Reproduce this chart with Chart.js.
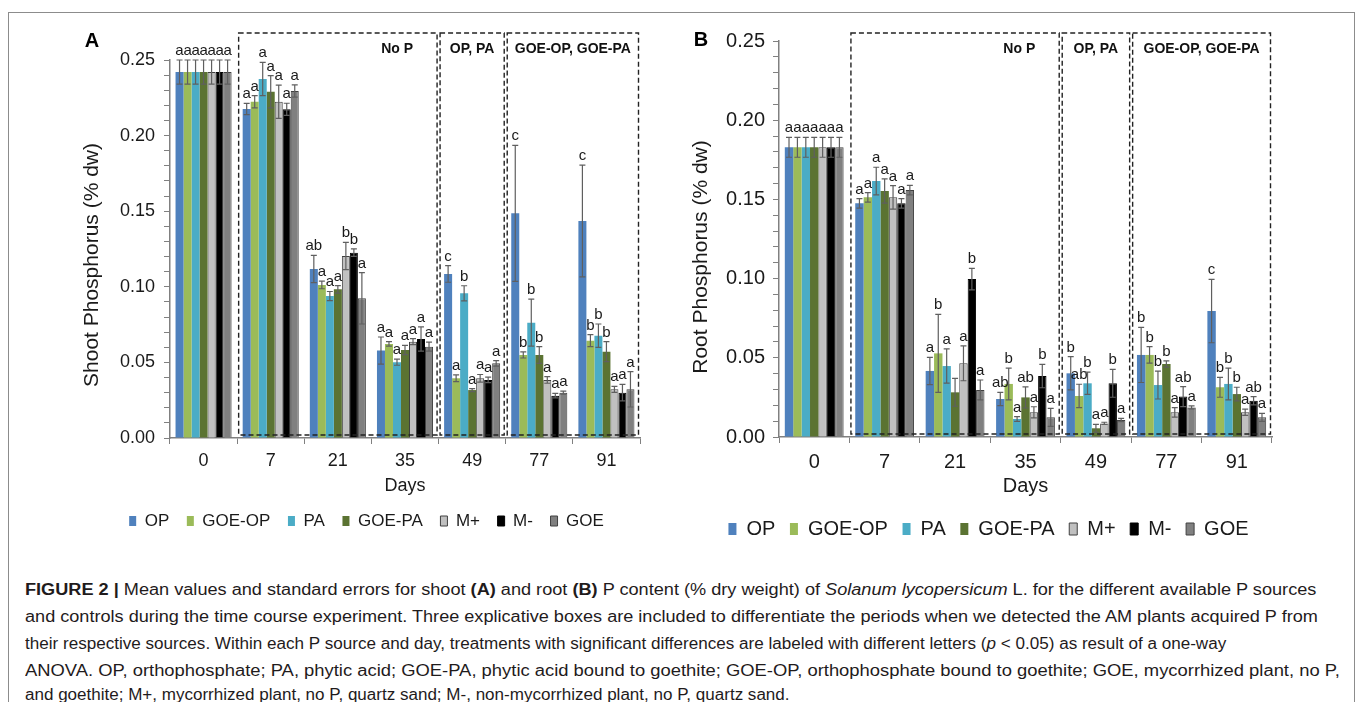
<!DOCTYPE html>
<html><head><meta charset="utf-8">
<script src="https://cdn.jsdelivr.net/npm/chart.js@4.4.1/dist/chart.umd.min.js"></script>
<style>
body{margin:0;background:#fff;width:1357px;height:702px;overflow:hidden;position:relative;font-family:"Liberation Sans",Arial,sans-serif;}
#frame{position:absolute;left:8px;top:12px;width:1347px;height:720px;border:1px solid #8c8c8c;box-sizing:border-box;}
#ca{position:absolute;left:20px;top:20px;}
#cb{position:absolute;left:680px;top:20px;}
.cap{position:absolute;left:25px;font-size:16px;color:#1f1b1c;white-space:nowrap;transform-origin:0 50%;line-height:20px;}
</style></head>
<body>
<div id="frame"></div>
<canvas id="ca" width="640" height="530"></canvas>
<canvas id="cb" width="612" height="540"></canvas>
<div class="cap" data-r="1316" style="top:580px"><b>FIGURE 2 |</b> Mean values and standard errors for shoot <b>(A)</b> and root <b>(B)</b> P content (% dry weight) of <i>Solanum lycopersicum</i> L. for the different available P sources</div>
<div class="cap" data-r="1318" style="top:607px">and controls during the time course experiment. Three explicative boxes are included to differentiate the periods when we detected the AM plants acquired P from</div>
<div class="cap" data-r="1226" style="top:634px">their respective sources. Within each P source and day, treatments with significant differences are labeled with different letters (<i>p</i> &lt; 0.05) as result of a one-way</div>
<div class="cap" data-r="1340" style="top:661px">ANOVA. OP, orthophosphate; PA, phytic acid; GOE-PA, phytic acid bound to goethite; GOE-OP, orthophosphate bound to goethite; GOE, mycorrhized plant, no P,</div>
<div class="cap" data-r="789" style="top:685px">and goethite; M+, mycorrhized plant, no P, quartz sand; M-, non-mycorrhized plant, no P, quartz sand.</div>
<script>
// ---------- data ----------
const days = ['0','7','21','35','49','77','91'];
const seriesNames = ['OP','GOE-OP','PA','GOE-PA','M+','M-','GOE'];
const seriesColors = ['#4f81bd','#9bbb59','#4bacc6','#5b7332','#c0c0c0','#000000','#808080'];
const seriesBorderColors = ['#4f81bd','#9bbb59','#4bacc6','#5b7332','#404040','#000000','#404040'];
const seriesBorderWidths = [0,0,0,0,1,1,1];
const periodLabels = ['No P','OP, PA','GOE-OP, GOE-PA'];
const periodFirstDay = ['7','49','77'];
const periodLastDay = ['35','49','91'];
const periodAlign = ['right','center','center'];

// Shoot P (% dw), panel A
const shootOP     = [0.242,0.2176,0.1118,0.0578,0.1085,0.1486,0.1435];
const shootGOEOP  = [0.242,0.2224,0.1012,0.0622,0.0395,0.0549,0.0644];
const shootPA     = [0.242,0.2374,0.0939,0.0501,0.0957,0.0763,0.0677];
const shootGOEPA  = [0.242,0.2290,0.0983,0.0582,0.0317,0.0549,0.0571];
const shootMplus  = [0.242,0.2224,0.1204,0.0637,0.0395,0.0384,0.0322];
const shootMminus = [0.242,0.2174,0.1226,0.0655,0.0384,0.0280,0.0300];
const shootGOE    = [0.242,0.2295,0.0924,0.0604,0.0494,0.0300,0.0322];
const shootOPse     = [0.008,0.0037,0.009,0.009,0.0055,0.045,0.037];
const shootGOEOPse  = [0.008,0.004,0.0025,0.0015,0.0022,0.002,0.004];
const shootPAse     = [0.008,0.011,0.003,0.002,0.005,0.0156,0.0077];
const shootGOEPAse  = [0.008,0.0106,0.0025,0.003,0.001,0.0055,0.0066];
const shootMplusse  = [0.008,0.011,0.009,0.002,0.0025,0.0022,0.002];
const shootMminusse = [0.008,0.004,0.0025,0.008,0.0018,0.0015,0.0055];
const shootGOEse    = [0.008,0.004,0.017,0.003,0.0018,0.001,0.0117];
const shootOPsig     = ['a','a','ab','a','c','c','c'];
const shootGOEOPsig  = ['a','a','a','a','a','b','b'];
const shootPAsig     = ['a','a','a','a','b','b','b'];
const shootGOEPAsig  = ['a','a','a','a','a','b','b'];
const shootMplussig  = ['a','a','b','a','a','a','a'];
const shootMminussig = ['a','a','b','a','a','a','a'];
const shootGOEsig    = ['a','a','a','a','a','a','a'];

// Root P (% dw), panel B
const rootOP     = [0.1829,0.1475,0.0417,0.0240,0.0402,0.0518,0.0795];
const rootGOEOP  = [0.1829,0.1513,0.0528,0.0335,0.0259,0.0518,0.0314];
const rootPA     = [0.1829,0.1616,0.0448,0.0114,0.0339,0.0328,0.0335];
const rootGOEPA  = [0.1829,0.1553,0.0282,0.0250,0.0055,0.0461,0.0271];
const rootMplus  = [0.1829,0.1513,0.0465,0.0156,0.0086,0.0156,0.0156];
const rootMminus = [0.1829,0.1475,0.0997,0.0385,0.0339,0.0255,0.0229];
const rootGOE    = [0.1829,0.1559,0.0297,0.0124,0.0107,0.0187,0.0124];
const rootOPse     = [0.0063,0.003,0.0086,0.0042,0.0105,0.0174,0.02];
const rootGOEOPse  = [0.0063,0.003,0.0246,0.01,0.0074,0.0052,0.0063];
const rootPAse     = [0.0063,0.0087,0.0108,0.0015,0.007,0.0088,0.01];
const rootGOEPAse  = [0.0063,0.0076,0.0088,0.0067,0.0025,0.002,0.0043];
const rootMplusse  = [0.0063,0.0074,0.011,0.0035,0.0007,0.003,0.002];
const rootMminusse = [0.0063,0.003,0.0068,0.0074,0.0088,0.0063,0.0026];
const rootGOEse    = [0.0063,0.003,0.0063,0.0057,0.001,0.001,0.0025];
const rootOPsig     = ['a','a','a','ab','b','b','c'];
const rootGOEOPsig  = ['a','a','b','b','ab','b','b'];
const rootPAsig     = ['a','a','a','a','b','b','b'];
const rootGOEPAsig  = ['a','a','','ab','a','b','b'];
const rootMplussig  = ['a','a','a','a','a','a','a'];
const rootMminussig = ['a','a','b','b','b','ab','ab'];
const rootGOEsig    = ['a','a','a','a','a','a','a'];

const yTickLabels = ['0.00','0.05','0.10','0.15','0.20','0.25'];

// ---------- chart ----------
Chart.defaults.font.family = '"Liberation Sans", Arial, sans-serif';
Chart.defaults.color = '#1a1a1a';

function buildDatasets(means, ses, sigs) {
  return seriesNames.map((name, i) => ({
    label: name,
    data: means[i],
    errors: ses[i],
    sig: sigs[i],
    backgroundColor: seriesColors[i],
    borderColor: seriesBorderColors[i],
    borderWidth: seriesBorderWidths[i],
    categoryPercentage: 0.835,
    barPercentage: 1.0
  }));
}

const annot = {
  id: 'annot',
  afterDatasetsDraw(chart, args, o) {
    const ctx = chart.ctx, xs = chart.scales.x, ys = chart.scales.y, ca = chart.chartArea;
    ctx.save();
    // error bars and significance letters
    chart.data.datasets.forEach((ds, di) => {
      const meta = chart.getDatasetMeta(di);
      meta.data.forEach((bar, i) => {
        const v = ds.data[i], e = ds.errors[i];
        const yt = ys.getPixelForValue(v + e), yb = ys.getPixelForValue(v - e);
        ctx.strokeStyle = '#5f5f5f'; ctx.lineWidth = 1.2; ctx.setLineDash([]);
        ctx.beginPath();
        ctx.moveTo(bar.x, yt); ctx.lineTo(bar.x, yb);
        ctx.moveTo(bar.x - 3, yt); ctx.lineTo(bar.x + 3, yt);
        ctx.moveTo(bar.x - 3, yb); ctx.lineTo(bar.x + 3, yb);
        ctx.stroke();
        if (ds.sig[i]) {
          ctx.fillStyle = '#1a1a1a';
          ctx.font = o.letterSize + 'px "Liberation Sans", Arial, sans-serif';
          ctx.textAlign = 'center'; ctx.textBaseline = 'alphabetic';
          ctx.fillText(ds.sig[i], bar.x, yt - 5);
        }
      });
    });
    // period boxes
    const cw = xs.getPixelForValue(1) - xs.getPixelForValue(0);
    const top = ca.top - o.boxAbove;
    const bottom = ys.getPixelForValue(0) - 3;
    ctx.strokeStyle = '#222'; ctx.lineWidth = 1.4; ctx.setLineDash([5, 3]);
    periodLabels.forEach((lab, k) => {
      const l = xs.getPixelForValue(days.indexOf(periodFirstDay[k])) - cw / 2 + 1.5;
      const r = xs.getPixelForValue(days.indexOf(periodLastDay[k])) + cw / 2 - 1.5;
      ctx.strokeRect(l, top, r - l, bottom - top);
      ctx.fillStyle = '#111';
      ctx.font = 'bold 14px "Liberation Sans", Arial, sans-serif';
      ctx.textBaseline = 'middle';
      if (periodAlign[k] === 'right') { ctx.textAlign = 'right'; ctx.fillText(lab, r - 24, top + 16); }
      else { ctx.textAlign = 'center'; ctx.fillText(lab, (l + r) / 2, top + 16); }
    });
    ctx.setLineDash([]);
    // panel letter
    ctx.fillStyle = '#000';
    ctx.font = 'bold 20px "Liberation Sans", Arial, sans-serif';
    ctx.textAlign = 'center'; ctx.textBaseline = 'middle';
    ctx.fillText(o.panel, o.panelX, o.panelY);
    // y axis title
    ctx.save();
    ctx.translate(o.titleX, o.titleY);
    ctx.rotate(-Math.PI / 2);
    ctx.font = '21px "Liberation Sans", Arial, sans-serif';
    ctx.fillStyle = '#1a1a1a';
    ctx.fillText(o.yTitle, 0, 0);
    ctx.restore();
    ctx.restore();
  }
};

function makeChart(id, datasets, g) {
  return new Chart(document.getElementById(id), {
    type: 'bar',
    data: { labels: days, datasets },
    plugins: [annot],
    options: {
      responsive: false, animation: false, devicePixelRatio: 1,
      layout: { padding: g.pad },
      plugins: {
        tooltip: { enabled: false },
        legend: {
          position: 'bottom',
          labels: { boxWidth: g.boxW, boxHeight: g.boxH, padding: g.legPad, color: '#1a1a1a',
                    font: { size: g.legFont } }
        },
        annot: g.annot
      },
      scales: {
        x: {
          grid: { offset: true, drawOnChartArea: false, tickLength: 6, color: '#808080' },
          border: { color: '#808080', width: 1.5 },
          ticks: { font: { size: g.tickFont }, padding: g.xTickPad, color: '#1a1a1a' },
          title: { display: true, text: 'Days', font: { size: g.daysFont, lineHeight: 1 }, padding: { top: 0, bottom: g.daysPad }, color: '#1a1a1a' },
          afterFit: s => { s.height = g.xH; }
        },
        y: {
          min: 0, max: 0.25,
          grid: { drawOnChartArea: false, tickLength: 6, color: '#808080' },
          border: { color: '#808080', width: 1.5 },
          ticks: {
            stepSize: 0.01, autoSkip: false, padding: g.yTickPad, font: { size: g.tickFont }, color: '#1a1a1a',
            callback: v => { const k = Math.round(v * 100); return k % 5 === 0 ? yTickLabels[k / 5] : ''; }
          },
          afterFit: s => { s.width = g.yW; }
        }
      }
    }
  });
}

makeChart('ca',
  buildDatasets(
    [shootOP, shootGOEOP, shootPA, shootGOEPA, shootMplus, shootMminus, shootGOE],
    [shootOPse, shootGOEOPse, shootPAse, shootGOEPAse, shootMplusse, shootMminusse, shootGOEse],
    [shootOPsig, shootGOEOPsig, shootPAsig, shootGOEPAsig, shootMplussig, shootMminussig, shootGOEsig]),
  { pad: { left: 73, right: 20, top: 40, bottom: 10.5 }, yW: 77, xH: 56.9,
    boxW: 7, boxH: 10, legPad: 17.6, legFont: 17, tickFont: 18, daysFont: 18, daysPad: 0,
    xTickPad: 6, yTickPad: 9,
    annot: { panel: 'A', panelX: 72, panelY: 21, boxAbove: 27, letterSize: 15,
             yTitle: 'Shoot Phosphorus (% dw)', titleX: 72, titleY: 245 } });

makeChart('cb',
  buildDatasets(
    [rootOP, rootGOEOP, rootPA, rootGOEPA, rootMplus, rootMminus, rootGOE],
    [rootOPse, rootGOEOPse, rootPAse, rootGOEPAse, rootMplusse, rootMminusse, rootGOEse],
    [rootOPsig, rootGOEOPsig, rootPAsig, rootGOEPAsig, rootMplussig, rootMminussig, rootGOEsig]),
  { pad: { left: 25, right: 20, top: 21, bottom: 11 }, yW: 74, xH: 67.4,
    boxW: 8, boxH: 12, legPad: 14.6, legFont: 20, tickFont: 20, daysFont: 20, daysPad: 7.9,
    xTickPad: 7, yTickPad: 8,
    annot: { panel: 'B', panelX: 21, panelY: 20, boxAbove: 8, letterSize: 15,
             yTitle: 'Root Phosphorus (% dw)', titleX: 21, titleY: 237 } });

// fit caption lines to their measured widths
document.querySelectorAll('.cap').forEach(el => {
  const target = parseFloat(el.dataset.r) - 25;
  const w = el.scrollWidth;
  if (w > 0) el.style.transform = 'scaleX(' + (target / w).toFixed(4) + ')';
});
</script>
</body></html>
